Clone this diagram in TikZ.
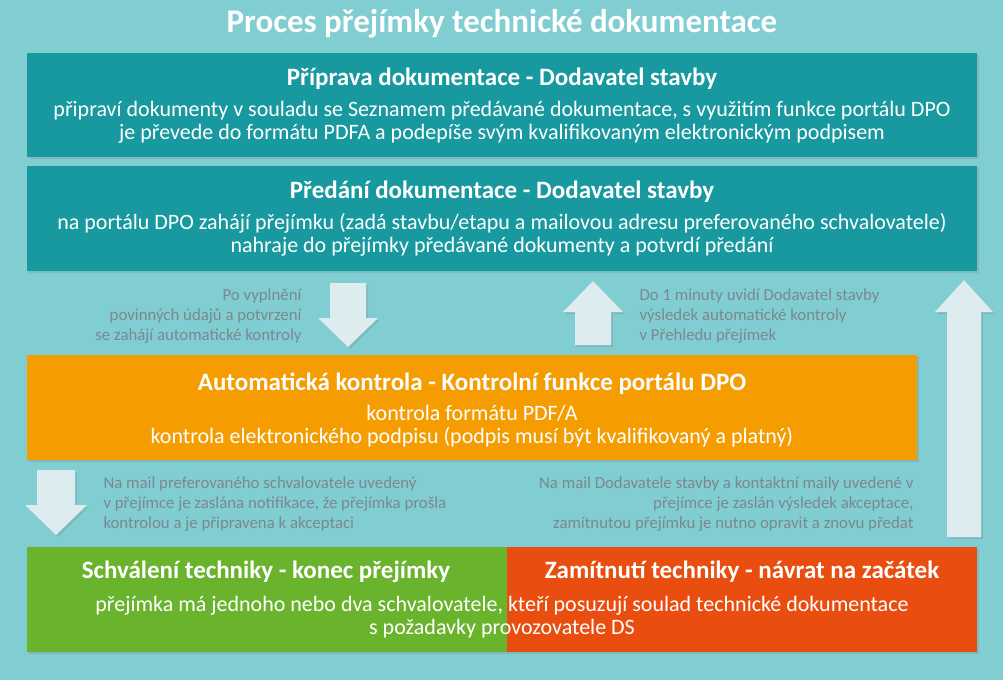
\documentclass[tikz,border=0pt]{standalone}
\usepackage{fontspec}
\setmainfont{Carlito}
\definecolor{bg}{HTML}{80CDD2}
\definecolor{teal}{HTML}{17999F}
\definecolor{orng}{HTML}{F59C00}
\definecolor{grn}{HTML}{6AB42D}
\definecolor{redo}{HTML}{E94E10}
\definecolor{arr}{HTML}{DDECEE}
\definecolor{gtxt}{HTML}{7D8790}
\usetikzlibrary{shadows}
\tikzset{
 head/.style={text=white, font=\fontsize{25}{28}\selectfont\bfseries, anchor=center},
 body/.style={text=white, font=\fontsize{22}{23}\selectfont, align=center, anchor=center},
 note/.style={text=gtxt, font=\fontsize{16.8}{20}\selectfont},
 fat/.style={fill=arr, draw=none, drop shadow={opacity=0.25,shadow xshift=2pt,shadow yshift=-2pt}},
 shd/.style={drop shadow={opacity=0.25,shadow xshift=2pt,shadow yshift=-2pt}}
}
\begin{document}
\begin{tikzpicture}[x=1pt,y=-1pt]
\fill[bg] (0,0) rectangle (1003,680);
\useasboundingbox (0,0) rectangle (1003,680);
\node[text=white, font=\fontsize{33}{36}\selectfont\bfseries] (title) at (502,24) {Proces přejímky technické dokumentace};
% boxes
\fill[teal, shd] (27,53) rectangle (977,157);
\node[head] (h1) at (502,79) {Příprava dokumentace - Dodavatel stavby};
\node[body] (b1) at (502,122) {připraví dokumenty v souladu se Seznamem předávané dokumentace, s využitím funkce portálu DPO\\je převede do formátu PDFA a podepíše svým kvalifikovaným elektronickým podpisem};
\fill[teal, shd] (27,166) rectangle (977,271);
\node[head] (h2) at (502,192) {Předání dokumentace - Dodavatel stavby};
\node[body] (b2) at (502,235) {na portálu DPO zahájí přejímku (zadá stavbu/etapu a mailovou adresu preferovaného schvalovatele)\\nahraje do přejímky předávané dokumenty a potvrdí předání};
\fill[orng, shd] (27,355) rectangle (917,460);
\node[head] (h3) at (472,384) {Automatická kontrola - Kontrolní funkce portálu DPO};
\node[body] (b3) at (472,426) {kontrola formátu PDF/A\\kontrola elektronického podpisu (podpis musí být kvalifikovaný a platný)};
\fill[grn, shd] (27,547) rectangle (507,652);
\fill[redo, shd] (507,547) rectangle (977,652);
\node[head] (h4) at (266,572) {Schválení techniky - konec přejímky};
\node[head] (h5) at (742,572) {Zamítnutí techniky - návrat na začátek};
\node[body] (b4) at (502,617) {přejímka má jednoho nebo dva schvalovatele, kteří posuzují soulad technické dokumentace\\s požadavky provozovatele DS};
% arrows
\fill[fat] (330,283) -- (366,283) -- (366,318) -- (378,318) -- (348,347) -- (318,318) -- (330,318) -- cycle;
\fill[fat] (575,345) -- (611,345) -- (611,312) -- (623,312) -- (593,281) -- (563,312) -- (575,312) -- cycle;
\fill[fat] (947,537) -- (981,537) -- (981,312) -- (993,312) -- (964,280) -- (935,312) -- (947,312) -- cycle;
\fill[fat] (37,470) -- (75,470) -- (75,505) -- (87,505) -- (56,535) -- (25,505) -- (37,505) -- cycle;
% notes
\node[note, align=right, anchor=east] (n1) at (305,316) {Po vyplnění\\povinných údajů a potvrzení\\se zahájí automatické kontroly};
\node[note, align=left, anchor=west] (n2) at (636,316) {Do 1 minuty uvidí Dodavatel stavby\\výsledek automatické kontroly\\v Přehledu přejímek};
\node[note, align=left, anchor=west] (n3) at (100,504) {Na mail preferovaného schvalovatele uvedený\\v přejímce je zaslána notifikace, že přejímka prošla\\kontrolou a je připravena k akceptaci};
\node[note, align=right, anchor=east] (n4) at (917,504) {Na mail Dodavatele stavby a kontaktní maily uvedené v\\přejímce je zaslán výsledek akceptace,\\zamítnutou přejímku je nutno opravit a znovu předat};
\end{tikzpicture}
\end{document}
